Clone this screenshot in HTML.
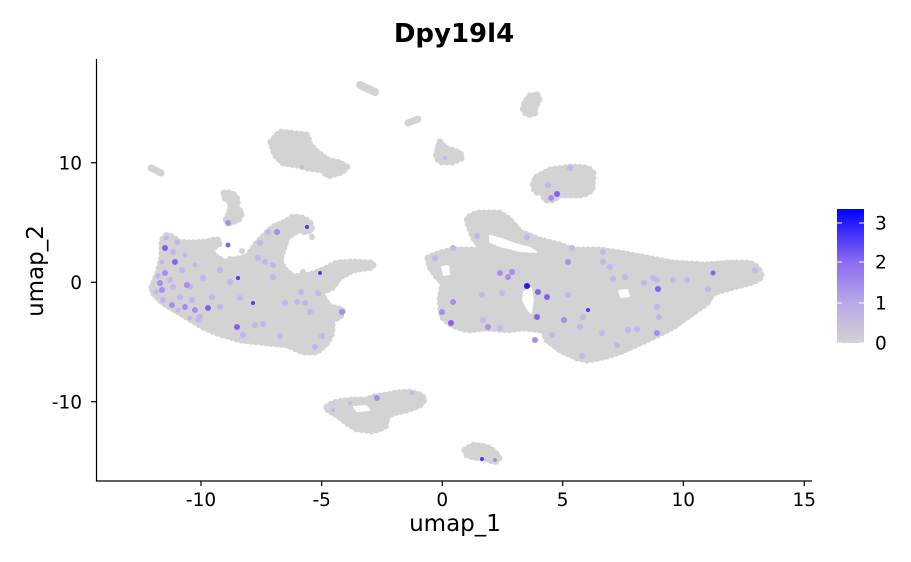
<!DOCTYPE html>
<html>
<head>
<meta charset="utf-8">
<style>
html,body{margin:0;padding:0;background:#fff;}
svg{display:block;}
text{font-family:"DejaVu Sans","Liberation Sans",sans-serif;fill:#000;}
</style>
</head>
<body>
<svg width="911" height="562" viewBox="0 0 911 562" xmlns="http://www.w3.org/2000/svg">
<defs>
<linearGradient id="cb" x1="0" y1="1" x2="0" y2="0">
<stop offset="0" stop-color="#D3D3D3"/>
<stop offset="0.3" stop-color="#B9A8E8"/>
<stop offset="0.6" stop-color="#8C6CF0"/>
<stop offset="1" stop-color="#0000FF"/>
</linearGradient>
</defs>
<rect width="911" height="562" fill="#fff"/>

<!-- gray clusters -->
<g id="cl">
<polygon points="152,287 158,273 162,257 162,240 167,235 173,237 178,242 190,243 207,242 217,239 220,243 210,250 217,258 227,263 233,260 247,257 257,243 267,233 273,227 283,223 293,217 303,218 310,223 312,230 305,232 300,230 293,233 287,238 283,250 280,260 283,268 293,277 310,275 323,270 337,263 353,262 373,263 373,267 353,270 340,277 333,287 327,290 320,293 330,307 343,310 340,317 332,320 332,333 327,343 317,352 303,352 287,345 267,343 240,340 217,333 203,327 180,313 163,303 153,293"/>
<polygon points="224,193 232,193 238,200 236,207 242,213 238,220 230,223 226,220 230,212 231,203 225,198"/>
<polygon points="428,258 440,253 453,250 477,250 480,247 473,237 468,223 467,218 477,213 500,213 510,220 520,232 540,240 560,245 573,250 600,250 620,253 647,258 673,263 707,265 730,263 750,263 758,268 762,277 753,282 730,288 713,293 707,303 693,313 673,327 653,337 640,343 620,352 600,358 587,360 577,358 560,350 547,340 543,330 523,328 507,330 487,328 467,330 452,325 442,317 440,300 443,283 437,277 430,267"/>
<polygon points="327,407 333,403 350,400 367,400 373,397 387,395 397,393 410,392 420,395 425,399 420,405 407,410 393,413 387,417 385,427 373,431 357,429 347,423 337,415 328,410"/>
<polygon points="465,450 473,445 487,447 495,452 499,458 495,462 487,459 473,457 467,455"/>
<polygon points="271,142 280,132 307,135 310,145 317,152 327,160 340,163 347,167 342,172 328,176 322,170 307,168 297,165 283,163 275,155"/>
<polygon points="440,142 445,148 460,153 462,158 453,162 440,162 436,157 438,148"/>
<polygon points="537,95 539,100 535,107 535,113 528,115 523,110 525,102 530,96"/>
<polygon points="537,177 550,170 570,167 588,168 593,173 592,190 583,195 560,195 553,200 545,200 543,193 535,192 533,183"/>
</g>
<use href="#cl" fill="#D3D3D3" stroke="#D3D3D3" stroke-width="3" stroke-linejoin="round"/>
<use href="#cl" fill="none" stroke="#D3D3D3" stroke-width="7" stroke-linecap="round" stroke-dasharray="0 5"/>
<g stroke="#D3D3D3" stroke-linecap="round" fill="none">
<line x1="360" y1="85" x2="375" y2="92" stroke-width="8"/>
<line x1="408" y1="123" x2="418" y2="119" stroke-width="7"/>
<line x1="151" y1="168" x2="161" y2="173" stroke-width="7"/>
</g>
<g fill="#D3D3D3">
<circle cx="242" cy="251" r="3"/><circle cx="230" cy="259" r="3"/><circle cx="283" cy="266" r="3"/>
<circle cx="285" cy="272" r="3"/><circle cx="303" cy="272" r="3"/><circle cx="312" cy="237" r="3"/>
<circle cx="527" cy="297" r="3"/><circle cx="531" cy="306" r="3"/>
</g>
<!-- holes -->
<g fill="#fff" stroke="#fff" stroke-width="2" stroke-linejoin="round">
<polygon points="490,236 502,239 515,244 530,248 536,252 520,251 500,246 490,242"/>
<polygon points="524,292 531,288 533,300 531,313 527,308 523,300"/>
<polygon points="442,267 448,266 449,274 444,275"/>
<polygon points="619,291 627,290 629,296 621,297"/>
<polygon points="354,407 366,406 369,410 357,411"/>
</g>

<!-- expressing cells -->
<g>
<g fill="#C4B6EC">
<circle cx="177" cy="242" r="3"/><circle cx="182" cy="270" r="3"/><circle cx="173" cy="287" r="3"/><circle cx="170" cy="280" r="3"/>
<circle cx="190" cy="287" r="3"/><circle cx="203" cy="278" r="3"/><circle cx="212" cy="297" r="3"/><circle cx="220" cy="307" r="3"/>
<circle cx="200" cy="317" r="3"/><circle cx="230" cy="282" r="3"/><circle cx="240" cy="298" r="3"/><circle cx="255" cy="325" r="3"/>
<circle cx="263" cy="324" r="3"/><circle cx="258" cy="258" r="3"/><circle cx="265" cy="262" r="3"/><circle cx="273" cy="265" r="3"/>
<circle cx="273" cy="277" r="3"/><circle cx="260" cy="243" r="3"/><circle cx="268" cy="232" r="3"/><circle cx="285" cy="303" r="3"/>
<circle cx="297" cy="302" r="3"/><circle cx="305" cy="303" r="3"/><circle cx="301" cy="292" r="3"/><circle cx="310" cy="312" r="3"/>
<circle cx="318" cy="293" r="3"/><circle cx="315" cy="347" r="3"/><circle cx="163" cy="300" r="3"/><circle cx="180" cy="297" r="3"/>
<circle cx="192" cy="300" r="3"/><circle cx="173" cy="252" r="3"/><circle cx="220" cy="270" r="3"/><circle cx="198" cy="320" r="3"/>
<circle cx="243" cy="335" r="3"/><circle cx="280" cy="336" r="3"/><circle cx="322" cy="336" r="3"/>
<circle cx="158" cy="276" r="2.5"/><circle cx="162" cy="262" r="2.5"/><circle cx="166" cy="238" r="2.5"/><circle cx="156" cy="292" r="2.5"/>
<circle cx="178" cy="310" r="2.5"/><circle cx="190" cy="318" r="2.5"/><circle cx="185" cy="255" r="2.5"/><circle cx="195" cy="265" r="2.5"/>
<circle cx="568" cy="295" r="3"/><circle cx="659" cy="317" r="3"/><circle cx="657" cy="307" r="3"/><circle cx="453" cy="248" r="3"/>
<circle cx="435" cy="258" r="3"/><circle cx="482" cy="295" r="3"/><circle cx="502" cy="293" r="3"/><circle cx="527" cy="237" r="3"/>
<circle cx="477" cy="236" r="3"/><circle cx="572" cy="248" r="3"/><circle cx="603" cy="252" r="3"/><circle cx="610" cy="267" r="3"/>
<circle cx="625" cy="277" r="3"/><circle cx="613" cy="279" r="3"/><circle cx="644" cy="283" r="3"/><circle cx="653" cy="278" r="3"/>
<circle cx="673" cy="280" r="3"/><circle cx="687" cy="280" r="3"/><circle cx="708" cy="289" r="3"/><circle cx="755" cy="270" r="3"/>
<circle cx="583" cy="317" r="3"/><circle cx="580" cy="327" r="3"/><circle cx="602" cy="333" r="3"/><circle cx="628" cy="330" r="3"/>
<circle cx="637" cy="329" r="3"/><circle cx="617" cy="345" r="3"/><circle cx="582" cy="356" r="3"/><circle cx="483" cy="320" r="3"/>
<circle cx="500" cy="328" r="3"/><circle cx="552" cy="335" r="3"/><circle cx="603" cy="262" r="3"/><circle cx="657" cy="280" r="3"/>
<circle cx="570" cy="168" r="3"/><circle cx="548" cy="185" r="3"/><circle cx="302" cy="167" r="2"/><circle cx="445" cy="158" r="2"/>
<circle cx="412" cy="393" r="2"/><circle cx="333" cy="410" r="2"/><circle cx="350" cy="403" r="2"/>
</g>
<g fill="#A98CEE">
<circle cx="165" cy="273" r="3"/><circle cx="185" cy="307" r="3"/><circle cx="277" cy="232" r="3"/><circle cx="342" cy="312" r="3"/>
<circle cx="228" cy="223" r="3"/><circle cx="162" cy="290" r="3"/><circle cx="187" cy="285" r="3"/><circle cx="160" cy="283" r="3"/>
<circle cx="172" cy="305" r="3"/><circle cx="195" cy="310" r="3"/>
<circle cx="535" cy="340" r="3"/><circle cx="564" cy="320" r="3"/><circle cx="657" cy="333" r="3"/><circle cx="453" cy="302" r="3"/>
<circle cx="442" cy="312" r="3"/><circle cx="512" cy="272" r="3"/><circle cx="508" cy="277" r="3"/><circle cx="500" cy="273" r="3"/>
<circle cx="568" cy="262" r="3"/><circle cx="488" cy="327" r="3"/><circle cx="551" cy="198" r="3"/><circle cx="377" cy="398" r="3"/>
<circle cx="495" cy="460" r="2"/>
</g>
<g fill="#8560F1">
<circle cx="165" cy="248" r="3"/><circle cx="175" cy="262" r="3"/><circle cx="208" cy="308" r="3"/><circle cx="237" cy="327" r="3"/>
<circle cx="228" cy="245" r="2.5"/>
<circle cx="538" cy="292" r="3"/><circle cx="547" cy="297" r="3"/><circle cx="537" cy="317" r="3"/><circle cx="658" cy="289" r="3"/>
<circle cx="451" cy="323" r="3"/><circle cx="713" cy="273" r="2.5"/><circle cx="557" cy="194" r="3"/>
</g>
<g fill="#5A34F5">
<circle cx="238" cy="278" r="2"/><circle cx="253" cy="303" r="2"/><circle cx="320" cy="273" r="2"/><circle cx="307" cy="227" r="2"/>
<circle cx="588" cy="310" r="2"/><circle cx="482" cy="459" r="2"/>
</g>
<circle cx="527" cy="286" r="3" fill="#2A10FA"/>
</g>

<!-- axes -->
<g stroke="#000" stroke-width="1.2" fill="none">
<line x1="96.5" y1="59" x2="96.5" y2="481.5"/>
<line x1="96" y1="481" x2="812" y2="481"/>
<line x1="91" y1="162.7" x2="96" y2="162.7"/>
<line x1="91" y1="282.3" x2="96" y2="282.3"/>
<line x1="91" y1="401.7" x2="96" y2="401.7"/>
<line x1="201" y1="481" x2="201" y2="486"/>
<line x1="321.7" y1="481" x2="321.7" y2="486"/>
<line x1="442.3" y1="481" x2="442.3" y2="486"/>
<line x1="562.7" y1="481" x2="562.7" y2="486"/>
<line x1="683.3" y1="481" x2="683.3" y2="486"/>
<line x1="804.3" y1="481" x2="804.3" y2="486"/>
</g>
<g font-size="18.5" text-anchor="end">
<text x="82" y="169.5">10</text>
<text x="82" y="289">0</text>
<text x="82" y="408.5">-10</text>
</g>
<g font-size="18.5" text-anchor="middle">
<text x="201" y="506">-10</text>
<text x="321.7" y="506">-5</text>
<text x="442.3" y="506">0</text>
<text x="562.7" y="506">5</text>
<text x="683.3" y="506">10</text>
<text x="804.3" y="506">15</text>
</g>
<text x="455" y="531" font-size="23" text-anchor="middle">umap_1</text>
<text transform="translate(43,271) rotate(-90)" font-size="23" text-anchor="middle">umap_2</text>
<text x="454" y="42" font-size="26" font-weight="bold" text-anchor="middle">Dpy19l4</text>

<!-- legend -->
<rect x="837" y="209" width="27" height="134" fill="url(#cb)"/>
<g stroke="#fff" stroke-width="1">
<line x1="837" y1="223" x2="842" y2="223"/><line x1="859" y1="223" x2="864" y2="223"/>
<line x1="837" y1="262" x2="842" y2="262"/><line x1="859" y1="262" x2="864" y2="262"/>
<line x1="837" y1="303" x2="842" y2="303"/><line x1="859" y1="303" x2="864" y2="303"/>
<line x1="837" y1="343" x2="842" y2="343"/><line x1="859" y1="343" x2="864" y2="343"/>
</g>
<g font-size="18.5">
<text x="875" y="229.5">3</text>
<text x="875" y="268.5">2</text>
<text x="875" y="309.5">1</text>
<text x="875" y="349.5">0</text>
</g>
</svg>
</body>
</html>
